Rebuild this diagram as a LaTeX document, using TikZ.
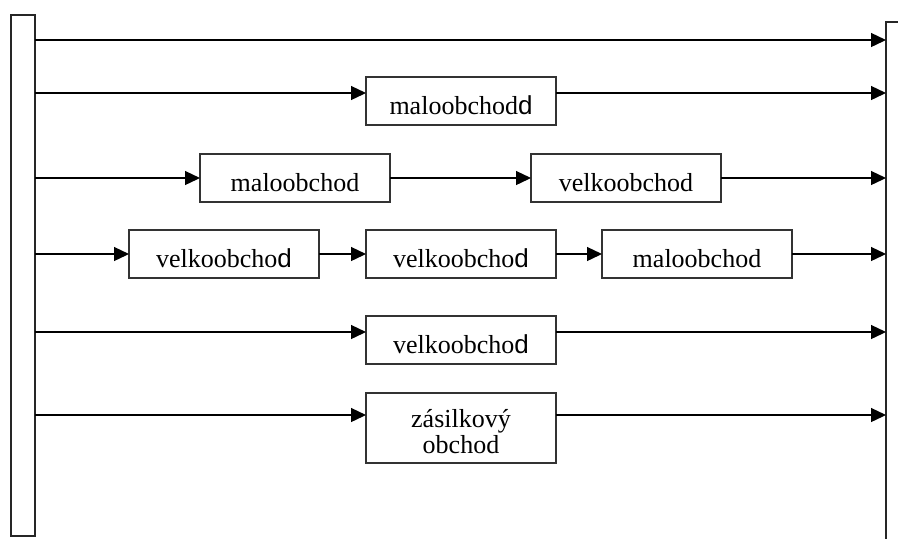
\documentclass[tikz,border=0pt]{standalone}
\usepackage{fontspec}
\setmainfont{Liberation Serif}
\newfontfamily\sanstype{Liberation Sans}
\usetikzlibrary{arrows.meta}
% the odd sans-serif "d" at the end of some labels
\newcommand{\sansd}{{\sanstype d}}
\tikzset{
  shop/.style={draw=black!80, line width=0.75pt, inner sep=0pt, outer sep=0pt,
    minimum width=95pt, font=\fontsize{13}{12.5}\selectfont},
  oneline/.style={text height=18.5pt, text depth=5.5pt},
  bar/.style={draw=black!85, line width=1.1pt, inner sep=0pt, outer sep=0pt},
  flow/.style={-{Triangle[length=7.5pt,width=7pt]}, line width=0.65pt}
}

\begin{document}
\begin{tikzpicture}[x=0.5pt,y=-0.5pt]
\clip (0,0) rectangle (898,538);

% producer and consumer bars
\node[bar, anchor=north west, minimum width=12pt, minimum height=260.5pt] (lbar) at (11,15) {};
\node[bar, anchor=north west, minimum width=20pt, minimum height=280pt] (rbar) at (886,22) {};

% heights of the six channels
\coordinate (y1) at (0,40);
\coordinate (y2) at (0,93);
\coordinate (y3) at (0,178);
\coordinate (y4) at (0,254);
\coordinate (y5) at (0,332);
\coordinate (y6) at (0,415);

% intermediaries
\node[shop, oneline, anchor=north west] (b2)  at (366,77)  {maloobchod\sansd};
\node[shop, oneline, anchor=north west] (b31) at (200,154) {maloobchod};
\node[shop, oneline, anchor=north west] (b32) at (531,154) {velkoobchod};
\node[shop, oneline, anchor=north west] (b41) at (129,230) {velkoobcho\sansd};
\node[shop, oneline, anchor=north west] (b42) at (366,230) {velkoobcho\sansd};
\node[shop, oneline, anchor=north west] (b43) at (602,230) {maloobchod};
\node[shop, oneline, anchor=north west] (b5)  at (366,316) {velkoobcho\sansd};
\node[shop, align=center, minimum height=35pt, anchor=north west,
  font=\fontsize{13}{13}\selectfont] (b6) at (366,393)
  {\rule{0pt}{13pt}zásilkový\\obchod};

% channel 1: direct
\draw[flow] (lbar.east |- y1) -- (rbar.west |- y1);

% channel 2
\draw[flow] (lbar.east |- y2) -- (b2.west |- y2);
\draw[flow] (b2.east |- y2) -- (rbar.west |- y2);

% channel 3
\draw[flow] (lbar.east |- y3) -- (b31.west |- y3);
\draw[flow] (b31.east |- y3) -- (b32.west |- y3);
\draw[flow] (b32.east |- y3) -- (rbar.west |- y3);

% channel 4
\draw[flow] (lbar.east |- y4) -- (b41.west |- y4);
\draw[flow] (b41.east |- y4) -- (b42.west |- y4);
\draw[flow] (b42.east |- y4) -- (b43.west |- y4);
\draw[flow] (b43.east |- y4) -- (rbar.west |- y4);

% channel 5
\draw[flow] (lbar.east |- y5) -- (b5.west |- y5);
\draw[flow] (b5.east |- y5) -- (rbar.west |- y5);

% channel 6
\draw[flow] (lbar.east |- y6) -- (b6.west |- y6);
\draw[flow] (b6.east |- y6) -- (rbar.west |- y6);

\end{tikzpicture}
\end{document}
